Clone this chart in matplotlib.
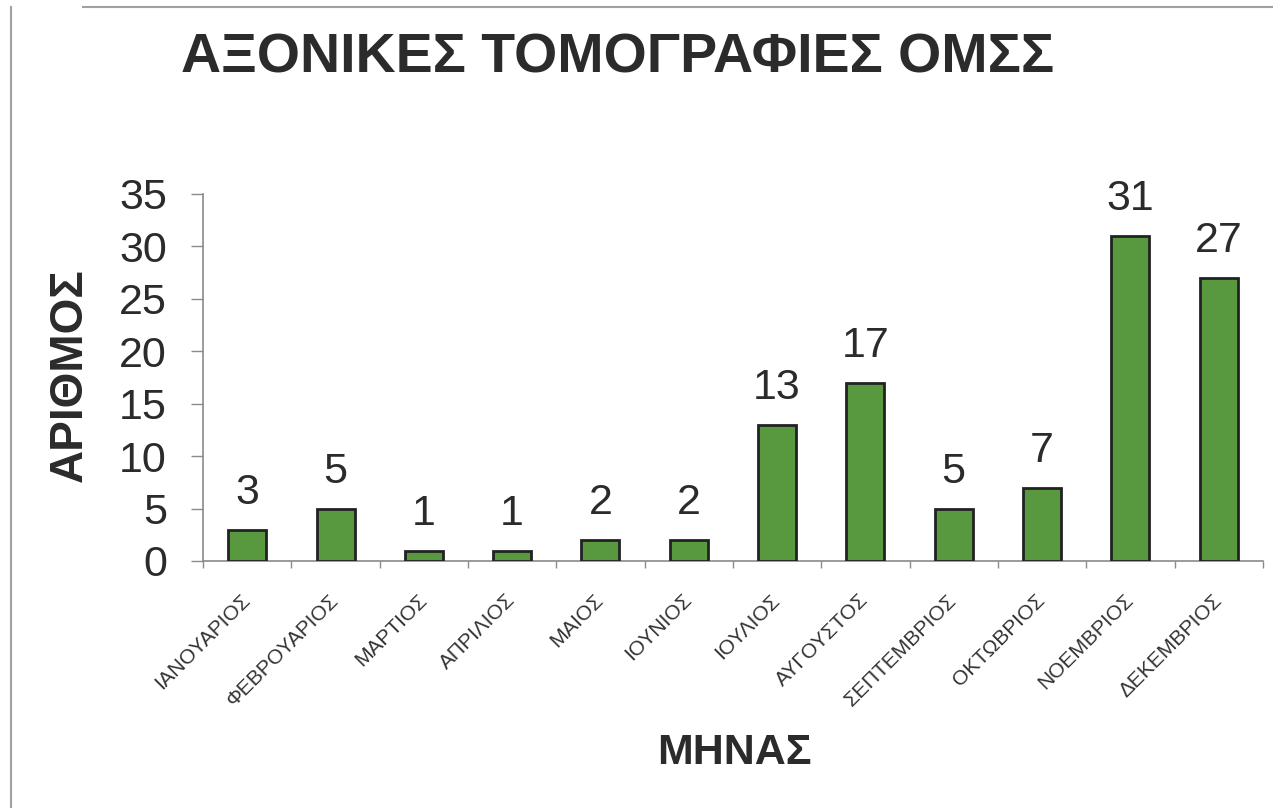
import numpy as np
import matplotlib
matplotlib.use("Agg")
import matplotlib.pyplot as plt
from matplotlib.lines import Line2D

plt.rcParams['font.family'] = ['Liberation Sans', 'DejaVu Sans']

# monthly counts
months = ["ΙΑΝΟΥΑΡΙΟΣ", "ΦΕΒΡΟΥΑΡΙΟΣ", "ΜΑΡΤΙΟΣ", "ΑΠΡΙΛΙΟΣ", "ΜΑΙΟΣ",
          "ΙΟΥΝΙΟΣ", "ΙΟΥΛΙΟΣ", "ΑΥΓΟΥΣΤΟΣ", "ΣΕΠΤΕΜΒΡΙΟΣ", "ΟΚΤΩΒΡΙΟΣ",
          "ΝΟΕΜΒΡΙΟΣ", "ΔΕΚΕΜΒΡΙΟΣ"]
counts = [3, 5, 1, 1, 2, 2, 13, 17, 5, 7, 31, 27]
yticks = [0, 5, 10, 15, 20, 25, 30, 35]

ink = '#2b2b2b'
axis_grey = '#8a8a8a'

fig = plt.figure(figsize=(12.73, 8.08), dpi=100)
ax = fig.add_axes([0.1595, 0.3057, 0.8325, 0.4543])

x = np.arange(len(months))
bars = ax.bar(x, counts, width=0.43, color='#58983f', edgecolor='#222222',
              linewidth=2, zorder=3)

for xi, v in zip(x, counts):
    ax.annotate(str(v), (xi, v), xytext=(0, 12), textcoords='offset points',
                ha='center', va='bottom', fontsize=31, color=ink)

ax.set_xlim(-0.5, len(months) - 0.5)
ax.set_ylim(0, 35)
ax.set_yticks(yticks)
ax.set_yticklabels([str(t) for t in yticks], fontsize=31, color=ink)
ax.tick_params(axis='y', length=9, width=1, color=axis_grey, pad=17)

# category labels at the centres, tick marks between categories
ax.set_xticks(x)
ax.set_xticklabels(months, rotation=45, ha='right', va='center',
                   rotation_mode='anchor', fontsize=15, color='#333333')
ax.tick_params(axis='x', which='major', length=0, pad=26)
ax.set_xticks(np.arange(-0.5, len(months)), minor=True)
ax.tick_params(axis='x', which='minor', length=5, width=1, color=axis_grey)

for side in ['top', 'right']:
    ax.spines[side].set_visible(False)
for side in ['left', 'bottom']:
    ax.spines[side].set_color(axis_grey)
    ax.spines[side].set_linewidth(1.2)

fig.text(0.485, 0.9097, "ΑΞΟΝΙΚΕΣ ΤΟΜΟΓΡΑΦΙΕΣ ΟΜΣΣ", ha='center', va='baseline',
         fontsize=40, fontweight='bold', color=ink)
fig.text(0.055, 0.536, "ΑΡΙΘΜΟΣ", rotation=90, ha='center', va='center',
         fontsize=33, fontweight='bold', color=ink)
fig.text(0.577, 0.068, "ΜΗΝΑΣ", ha='center', va='center',
         fontsize=31, fontweight='bold', color=ink)

# page frame on the left and top
fig.add_artist(Line2D([0.0086, 0.0086], [0.0, 0.991], transform=fig.transFigure,
                      color='#a0a0a8', linewidth=1.5))
fig.add_artist(Line2D([0.065, 1.0], [0.991, 0.991], transform=fig.transFigure,
                      color='#a0a0a0', linewidth=1.5))

fig.savefig("out.png", dpi=100)
